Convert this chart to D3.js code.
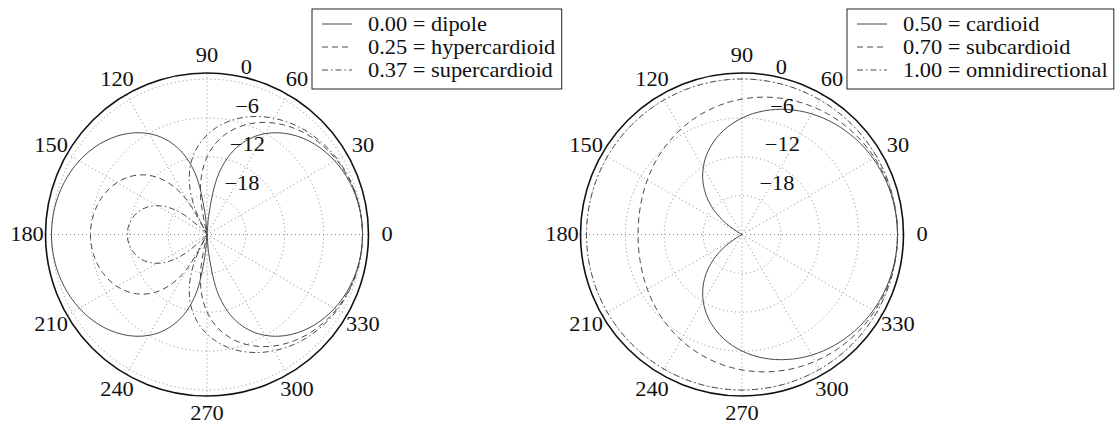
<!DOCTYPE html>
<html lang="en">
<head>
<meta charset="UTF-8">
<title>Polar patterns</title>
<style>
  * { margin: 0; padding: 0; }
  body { background: #fff; }
  #chart { width: 1117px; height: 425px; }
</style>
</head>
<body>
<div id="chart"></div>
<script src="https://cdn.jsdelivr.net/npm/d3@7"></script>
<script>
  // angles 0..180 deg, patterns are symmetric so the other half is mirrored
  const angles = d3.range(0, 181, 5)
  const ringTicks = [-18, -12, -6, 0]
  const ringLabels = ['−18', '−12', '−6', '0']
  const spokeAngles = [0, 30, 60, 90, 120, 150, 180, 210, 240, 270, 300, 330]

  // level in dB
  const dipole = [0, -0.03, -0.13, -0.30, -0.54, -0.85, -1.25, -1.73, -2.31, -3.01, -3.84, -4.83, -6.02, -7.48, -9.32, -11.74, -15.21, -21.19, -Infinity,
    -21.19, -15.21, -11.74, -9.32, -7.48, -6.02, -4.83, -3.84, -3.01, -2.31, -1.73, -1.25, -0.85, -0.54, -0.30, -0.13, -0.03, 0]
  const hypercardioid = [0, -0.02, -0.10, -0.22, -0.40, -0.63, -0.92, -1.27, -1.68, -2.15, -2.71, -3.35, -4.08, -4.93, -5.91, -7.05, -8.40, -10.02, -12.04,
    -14.67, -18.43, -25.05, -43.72, -23.48, -18.06, -14.89, -12.69, -11.05, -9.77, -8.77, -7.97, -7.34, -6.84, -6.48, -6.22, -6.07, -6.02]
  const supercardioid = [0, -0.02, -0.08, -0.19, -0.34, -0.53, -0.77, -1.05, -1.39, -1.77, -2.21, -2.72, -3.29, -3.93, -4.65, -5.46, -6.39, -7.43, -8.64,
    -10.03, -11.68, -13.68, -16.22, -19.68, -25.19, -41.27, -29.13, -22.44, -18.97, -16.71, -15.11, -13.94, -13.07, -12.45, -12.03, -11.78, -11.70]
  const cardioid = [0, -0.02, -0.07, -0.15, -0.27, -0.42, -0.60, -0.82, -1.08, -1.38, -1.71, -2.08, -2.50, -2.96, -3.47, -4.02, -4.63, -5.29, -6.02,
    -6.81, -7.68, -8.62, -9.66, -10.79, -12.04, -13.42, -14.96, -16.69, -18.64, -20.87, -23.48, -26.59, -30.41, -35.37, -42.38, -54.43, -Infinity]
  const subcardioid = [0, -0.01, -0.04, -0.09, -0.16, -0.25, -0.36, -0.48, -0.63, -0.80, -0.98, -1.19, -1.41, -1.65, -1.91, -2.18, -2.47, -2.78, -3.10,
    -3.43, -3.77, -4.12, -4.47, -4.83, -5.19, -5.55, -5.90, -6.23, -6.55, -6.85, -7.13, -7.37, -7.57, -7.74, -7.86, -7.93, -7.96]
  const omnidirectional = [0, 0, 0, 0, 0, 0, 0, 0, 0, 0, 0, 0, 0, 0, 0, 0, 0, 0, 0,
    0, 0, 0, 0, 0, 0, 0, 0, 0, 0, 0, 0, 0, 0, 0, 0, 0, 0]

  const leftNames = ['0.00 = dipole', '0.25 = hypercardioid', '0.37 = supercardioid']
  const rightNames = ['0.50 = cardioid', '0.70 = subcardioid', '1.00 = omnidirectional']
  const dashes = [null, '6,4', '6,3,1.5,3']

  const panels = [
    {cx: 207, cy: 234.5, legendX: 312, names: leftNames, series: [dipole, hypercardioid, supercardioid]},
    {cx: 742, cy: 234.5, legendX: 847, names: rightNames, series: [cardioid, subcardioid, omnidirectional]}
  ]

  const width = 1117
  const height = 425
  const font = '"Liberation Serif", "Times New Roman", Times, serif'
  const svg = d3.select('#chart').append('svg')
    .attr('width', width)
    .attr('height', height)
  svg.append('rect').attr('width', width).attr('height', height).style('fill', '#fff')

  const r = d3.scaleLinear().domain([-24, 0]).range([0, 155.5]).clamp(true)
  const rOuter = 161.5
  const rad = d => d * Math.PI / 180

  const line = d3.lineRadial()
    .angle(d => Math.PI / 2 - rad(d[0]))
    .radius(d => r(d[1]))
    .curve(d3.curveCatmullRomClosed.alpha(0.5))

  function fullTurn (vals) {
    const pts = angles.map((a, i) => [a, vals[i]])
    for (let i = angles.length - 2; i > 0; i--) pts.push([360 - angles[i], vals[i]])
    return pts
  }

  function txt (g, x, y, s, anchor) {
    return g.append('text')
      .attr('transform', 'translate(' + x + ',' + y + ') scale(1.12,1)')
      .attr('text-anchor', anchor || 'middle')
      .style('font-family', font)
      .style('font-size', '20px')
      .style('fill', '#111')
      .text(s)
  }

  panels.forEach(p => {
    const g = svg.append('g').attr('transform', 'translate(' + p.cx + ',' + p.cy + ')')

    // grid
    g.selectAll('.ring').data(ringTicks).enter().append('circle')
      .attr('r', d => r(d))
      .attr('fill', 'none').attr('stroke', '#888').attr('stroke-width', 1).attr('stroke-dasharray', '1,3')
    g.selectAll('.spoke').data(spokeAngles).enter().append('line')
      .attr('x1', 0).attr('y1', 0)
      .attr('x2', d => rOuter * Math.cos(rad(d)))
      .attr('y2', d => -rOuter * Math.sin(rad(d)))
      .attr('stroke', '#888').attr('stroke-width', 1).attr('stroke-dasharray', '1,3')

    // patterns
    p.series.forEach((s, i) => {
      g.append('path')
        .attr('d', line(fullTurn(s)))
        .attr('fill', 'none')
        .attr('stroke', '#4a4a4a')
        .attr('stroke-width', 1)
        .attr('stroke-dasharray', dashes[i])
    })

    g.append('circle').attr('r', rOuter)
      .attr('fill', 'none').attr('stroke', '#111').attr('stroke-width', 1.6)

    // angle labels
    spokeAngles.forEach(a => {
      txt(g, 180 * Math.cos(rad(a)), -179 * Math.sin(rad(a)) + 6.5, String(a))
    })
    // ring labels
    ringTicks.forEach((t, i) => {
      const rr = r(t)
      txt(g, rr * Math.cos(rad(82)) + 12, -(rr * Math.sin(rad(82)) + 6.5), ringLabels[i], 'start')
    })

    // legend
    const lg = svg.append('g')
    const box = lg.append('rect')
      .attr('fill', '#fff').attr('stroke', '#222').attr('stroke-width', 1)
    const texts = p.names.map((n, i) => {
      const y = 30.5 + i * 23
      lg.append('line')
        .attr('x1', p.legendX + 10).attr('x2', p.legendX + 40)
        .attr('y1', y - 6.5).attr('y2', y - 6.5)
        .attr('stroke', '#4a4a4a').attr('stroke-width', 1)
        .attr('stroke-dasharray', dashes[i])
      return txt(lg, p.legendX + 56, y, n, 'start')
    })
    const maxW = d3.max(texts, t => t.node().getBBox().width * 1.12)
    box.attr('x', p.legendX).attr('y', 9)
      .attr('width', Math.min(56 + maxW + 6, width - 1 - p.legendX)).attr('height', 80)
  })
</script>
</body>
</html>
